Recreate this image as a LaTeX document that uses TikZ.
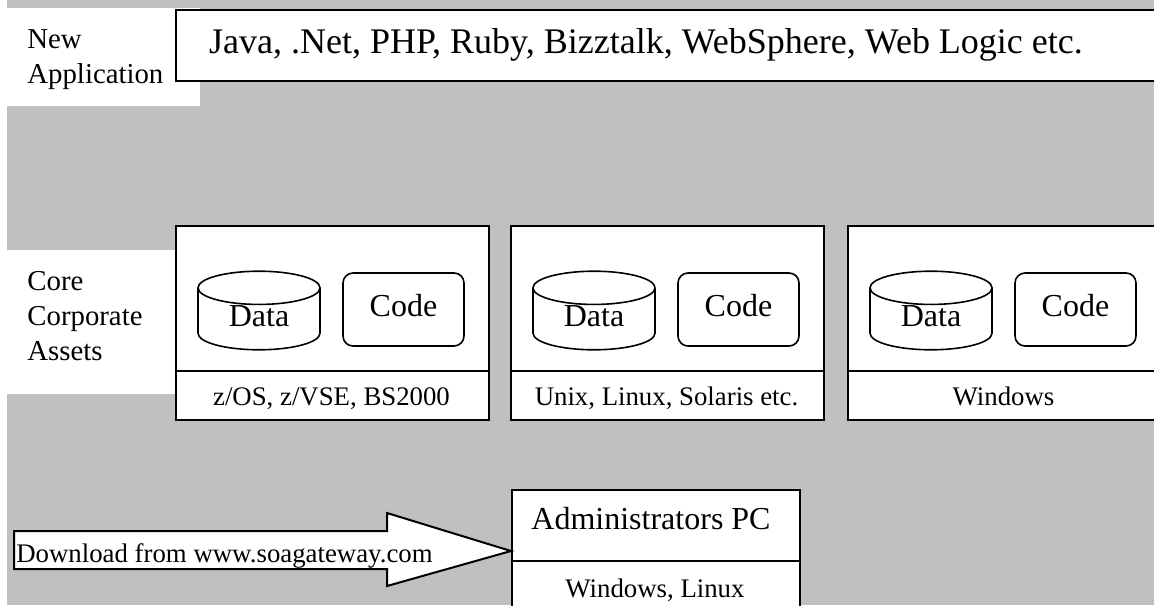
\documentclass[tikz,border=0pt]{standalone}
\usepackage{fontspec}
\setmainfont{Liberation Serif}
\usetikzlibrary{shapes.geometric}
\definecolor{bggray}{RGB}{192,192,192}

\begin{document}
\begin{tikzpicture}
  [x=0.5pt,y=-0.5pt,every node/.style={inner sep=0pt},
   box/.style={draw,fill=white,line width=1pt},
   bigtext/.style={font=\fontsize{16}{19}\selectfont},
   smalltext/.style={font=\fontsize{13.4}{16}\selectfont},
   sidetext/.style={font=\fontsize{14.4}{17.5}\selectfont,align=left,anchor=north west},
   datastore/.style={draw,fill=white,line width=0.8pt,cylinder,shape border rotate=90,
     aspect=0.55,minimum width=61pt,text depth=3.5pt,anchor=shape center,bigtext},
   codebox/.style={draw,fill=white,line width=0.8pt,rounded corners=5pt,
     minimum width=60.5pt,minimum height=36.5pt,bigtext}]
  \useasboundingbox (0,0) rectangle (1154,605);
  \fill[bggray] (7,0) rectangle (1154,605);
  \fill[white] (7,8) rectangle (200,106);
  \fill[white] (7,250) rectangle (175,394);

  \node[box,anchor=north west,minimum width=495pt,minimum height=35.5pt] (apps) at (175,9) {};
  \node[bigtext,font=\fontsize{18}{21}\selectfont,anchor=base] (appslist) at (646,53)
    {Java, .Net, PHP, Ruby, Bizztalk, WebSphere, Web Logic etc.};
  \node[sidetext] (newapp) at (27,29) {New\\Application};
  \node[sidetext] (core) at (27,271) {Core\\Corporate\\Assets};

  \foreach \x/\name/\os in {175/zos/{z/OS, z/VSE, BS2000},510/unix/{Unix, Linux, Solaris etc.},847/win/Windows}
  {
    \node[box,anchor=north west,minimum width=156.5pt,minimum height=97pt] (\name) at (\x,225) {};
    \draw[line width=1pt] ([yshift=25pt]\name.south west) -- ([yshift=25pt]\name.south east);
    \node[smalltext,anchor=base] (\name-os) at (\x+156.5,405) {\os};
    \node[datastore] (\name-data) at (\x+84,310.5) {Data};
    \node[codebox,text depth=4pt] (\name-code) at (\x+228.5,309.5) {Code};
  }

  \node[box,anchor=north west,minimum width=144pt,minimum height=61pt] (adminpc) at (511,489) {};
  \draw[line width=1pt] ([yshift=-36pt]adminpc.north west) -- ([yshift=-36pt]adminpc.north east);
  \node[bigtext,anchor=base] (admintitle) at (651,529) {Administrators PC};
  \node[smalltext,anchor=base] (adminos) at (655,597) {Windows, Linux};

  % download arrow
  \draw[box] (14,531) -- (387,531) -- (387,513) -- (adminpc.west)
    -- (387,586) -- (387,569) -- (14,569) -- cycle;
  \node[smalltext,anchor=base west] (download) at (16,562) {Download from www.soagateway.com};
\end{tikzpicture}
\end{document}
